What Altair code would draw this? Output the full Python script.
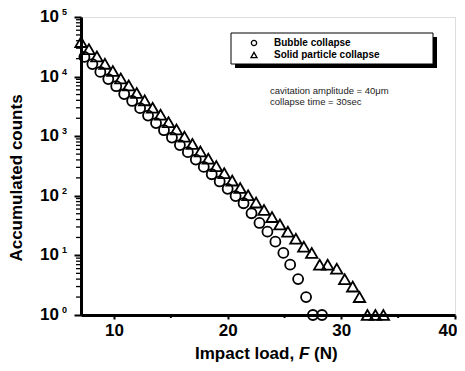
import altair as alt
import pandas as pd

# ---- data ----
F_tri = [7.1, 7.8, 8.5, 9.2, 9.9, 10.6, 11.3, 12.0, 12.7, 13.4, 14.1, 14.8, 15.5, 16.2,
         16.9, 17.6, 18.3, 19.0, 19.7, 20.4, 21.1, 21.8, 22.5, 23.2, 23.9, 24.6, 25.3,
         26.0, 26.7, 27.4, 28.1, 28.8, 29.6, 30.3, 31.0, 31.6, 32.3, 33.0, 33.7]
N_tri = [38000, 28800, 21800, 16400, 12400, 9300, 7100, 5300, 4000, 3000, 2300, 1720,
         1300, 980, 740, 555, 420, 315, 240, 180, 135, 102, 77, 58, 44, 33, 25, 19, 14,
         11, 7, 7, 6, 4, 3, 2, 1, 1, 1]

F_bub = [7.4, 8.1, 8.8, 9.5, 10.2, 10.9, 11.6, 12.3, 13.0, 13.7, 14.4, 15.1, 15.8, 16.5,
         17.2, 17.9, 18.6, 19.3, 20.0, 20.7, 21.4, 22.1, 22.8, 23.5, 24.2, 24.9, 25.5,
         26.2, 26.9, 27.5, 28.3]
N_bub = [21400, 16200, 12000, 9100, 6900, 5100, 3900, 2950, 2220, 1660, 1260, 950, 710,
         540, 405, 305, 230, 174, 131, 99, 75, 51, 35, 25, 17, 11, 7, 4, 2, 1, 1]

x_ticks = [10, 20, 30, 40]
x_minor = [15, 25, 35]
y_ticks = [1, 10, 100, 1000, 10000, 100000]
y_exps = ["0", "1", "2", "3", "4", "5"]
y_minor = [m * 10 ** k for k in range(5) for m in range(2, 10)]

legend_labels = ["Bubble collapse", "Solid particle collapse"]
note_lines = ["cavitation amplitude = 40\u03bcm", "collapse time = 30sec"]

FONT = "Liberation Sans"
W, H = 374, 298

xs = alt.Scale(domain=[7.1, 40], nice=False, zero=False)
ys = alt.Scale(type="log", domain=[1, 100000], nice=False)

tri_df = pd.DataFrame({"F": F_tri, "N": N_tri})
bub_df = pd.DataFrame({"F": F_bub, "N": N_bub})
one = pd.DataFrame({"a": [0]})

x_axis = alt.Axis(values=x_ticks, labelFontSize=17, labelFont=FONT, labelFontWeight="bold",
                  labelColor="black", tickSize=4, tickWidth=2, tickColor="black",
                  domainWidth=3, domainColor="black", labelPadding=3, grid=False,
                  title=None, labelFlush=True, labelFlushOffset=2)
y_axis = alt.Axis(values=y_ticks, labels=False, tickSize=7, tickWidth=2, tickColor="black",
                  domainWidth=3, domainColor="black", grid=False, title=None)

bub = alt.Chart(bub_df).mark_point(shape="circle", size=100, filled=False, color="black",
                                   strokeWidth=1.8, opacity=1).encode(
    x=alt.X("F:Q", scale=xs, axis=x_axis),
    y=alt.Y("N:Q", scale=ys, axis=y_axis),
)
tri = alt.Chart(tri_df).mark_point(shape="triangle-up", size=130, filled=False, color="black",
                                   strokeWidth=1.8, opacity=1).encode(
    x=alt.X("F:Q", scale=xs),
    y=alt.Y("N:Q", scale=ys),
)

xminor = alt.Chart(pd.DataFrame({"v": x_minor})).mark_rule(color="black", strokeWidth=2).encode(
    x=alt.X("v:Q", scale=xs), y=alt.value(H), y2=alt.value(H + 3))
yminor = alt.Chart(pd.DataFrame({"v": y_minor})).mark_rule(color="black", strokeWidth=1.3).encode(
    y=alt.Y("v:Q", scale=ys), x=alt.value(-5), x2=alt.value(0))

ylab_df = pd.DataFrame({"v": y_ticks, "e": y_exps})
ylab = alt.Chart(ylab_df).mark_text(align="right", baseline="middle", font=FONT,
                                    fontSize=17, fontWeight="bold", color="black").encode(
    y=alt.Y("v:Q", scale=ys), x=alt.value(-22), text=alt.value("10"))
yexp = alt.Chart(ylab_df).mark_text(align="left", baseline="middle", font=FONT, dy=-5,
                                    fontSize=9, fontWeight="bold", color="black").encode(
    y=alt.Y("v:Q", scale=ys), x=alt.value(-19), text="e:N")

# axis titles
ytitle = alt.Chart(one).mark_text(angle=270, align="center", baseline="middle", font=FONT,
                                  fontSize=17, fontWeight="bold", color="black").encode(
    x=alt.value(-64), y=alt.value(161), text=alt.value("Accumulated counts"))
xt1 = alt.Chart(one).mark_text(align="left", baseline="alphabetic", font=FONT,
                               fontSize=17, fontWeight="bold", color="black").encode(
    x=alt.value(114), y=alt.value(342), text=alt.value("Impact load,"))
xt2 = alt.Chart(one).mark_text(align="left", baseline="alphabetic", font=FONT,
                               fontSize=17, fontWeight="bold", fontStyle="italic",
                               color="black").encode(
    x=alt.value(218), y=alt.value(342), text=alt.value("F"))
xt3 = alt.Chart(one).mark_text(align="left", baseline="alphabetic", font=FONT,
                               fontSize=17, fontWeight="bold", color="black").encode(
    x=alt.value(233), y=alt.value(342), text=alt.value("(N)"))

# legend box with shadow
shadow = alt.Chart(one).mark_rect(color="black").encode(
    x=alt.value(154), x2=alt.value(356), y=alt.value(20), y2=alt.value(51))
box = alt.Chart(one).mark_rect(fill="white", stroke="black", strokeWidth=1).encode(
    x=alt.value(150), x2=alt.value(352), y=alt.value(16), y2=alt.value(47))
lg_c = alt.Chart(one).mark_point(shape="circle", size=28, filled=False, color="black",
                                 strokeWidth=1.3, opacity=1).encode(
    x=alt.value(173), y=alt.value(26))
lg_t = alt.Chart(one).mark_point(shape="triangle-up", size=36, filled=False, color="black",
                                 strokeWidth=1.3, opacity=1).encode(
    x=alt.value(173), y=alt.value(38))
lg_df = pd.DataFrame({"t": legend_labels, "yy": [26, 38]})
lg_txt = alt.Chart(lg_df).mark_text(align="left", baseline="middle", font=FONT, fontSize=10,
                                    fontWeight="bold", color="black").encode(
    x=alt.value(193), y=alt.Y("yy:Q", scale=None), text="t:N")

note_df = pd.DataFrame({"t": note_lines, "yy": [74, 85]})
note = alt.Chart(note_df).mark_text(align="left", baseline="middle", font=FONT, fontSize=9.5,
                                    color="#222222").encode(
    x=alt.value(189), y=alt.Y("yy:Q", scale=None), text="t:N")

chart = alt.layer(
    xminor, yminor, bub, tri, shadow, box, lg_c, lg_t, lg_txt, note,
    ylab, yexp, ytitle, xt1, xt2, xt3
).properties(
    width=W, height=H, autosize="none",
    padding={"left": 73, "top": 9, "right": 2, "bottom": 48},
).configure_view(stroke="black", strokeWidth=2.5).configure(background="white")

chart.save("out.html", embed_options={"renderer": "svg", "actions": False})
